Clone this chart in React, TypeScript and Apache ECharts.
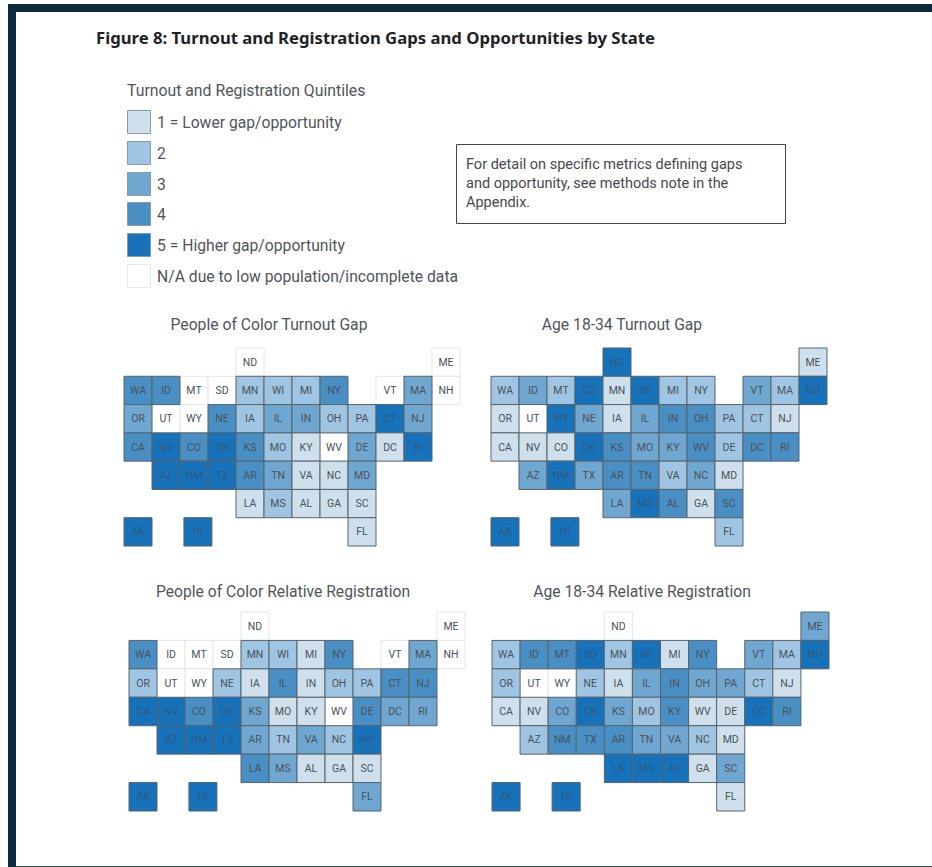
import React, { useEffect, useRef } from "react";
import * as echarts from "echarts";

const states = ["ND","ME","WA","ID","MT","SD","MN","WI","MI","NY","VT","MA","NH","OR","UT","WY","NE","IA","IL","IN","OH","PA","CT","NJ","CA","NV","CO","OK","KS","MO","KY","WV","DE","DC","RI","AZ","NM","TX","AR","TN","VA","NC","MD","LA","MS","AL","GA","SC","AK","HI","FL"];
const columns = [4,11,0,1,2,3,4,5,6,7,9,10,11,0,1,2,3,4,5,6,7,8,9,10,0,1,2,3,4,5,6,7,8,9,10,1,2,3,4,5,6,7,8,4,5,6,7,8,0,2.14,8];
const rows = [0,0,1,1,1,1,1,1,1,1,1,1,1,2,2,2,2,2,2,2,2,2,2,2,3,3,3,3,3,3,3,3,3,3,3,4,4,4,4,4,4,4,4,5,5,5,5,5,6,6,6];

const pocTurnout = [0,0,4,4,0,0,2,2,2,4,0,3,0,3,0,0,4,2,3,3,2,2,5,3,4,5,4,5,4,2,1,0,3,1,5,5,5,5,4,3,1,1,3,1,2,1,1,1,5,5,1];
const youthTurnout = [5,1,2,3,2,5,1,5,2,2,3,2,5,1,0,5,3,1,3,4,4,2,2,1,1,1,1,5,4,3,3,4,2,4,4,3,5,3,4,4,2,3,1,3,5,4,1,4,5,5,2];
const pocRegistration = [0,0,4,0,0,0,2,2,1,4,0,3,0,2,0,0,2,1,4,1,2,2,4,4,5,5,4,5,3,1,1,0,4,3,3,5,5,5,3,2,3,2,5,4,3,1,1,1,5,5,3];
const youthRegistration = [0,3,2,4,4,5,2,5,1,4,3,2,5,2,0,0,2,1,3,4,3,3,2,1,1,1,3,5,3,2,4,1,1,5,4,2,4,4,4,3,3,2,1,5,5,5,1,3,5,5,1];

const quintileColors = ["#ffffff","#cfe0ec","#a0c5e2","#6fa7d0","#4a8fc4","#1772b9"];
const legendLabels = ["1 = Lower gap/opportunity","2","3","4","5 = Higher gap/opportunity","N/A due to low population/incomplete data"];
const legendLevels = [1,2,3,4,5,0];
const legendTops = [110,141,172,202,233,264];
const noteLines = ["For detail on specific metrics defining gaps","and opportunity, see methods note in the","Appendix."];

const panels = [
  { title: "People of Color Turnout Gap", values: pocTurnout, left: 124, top: 348, right: 460, bottom: 546, titleX: 269, titleY: 324 },
  { title: "Age 18-34 Turnout Gap", values: youthTurnout, left: 491, top: 348, right: 827, bottom: 546, titleX: 622, titleY: 324 },
  { title: "People of Color Relative Registration", values: pocRegistration, left: 129, top: 612, right: 465, bottom: 811, titleX: 283, titleY: 591 },
  { title: "Age 18-34 Relative Registration", values: youthRegistration, left: 492, top: 612, right: 829, bottom: 811, titleX: 642, titleY: 591 },
];

const TEXT = "#50555a";
const FONT = "Roboto";

export default function App() {
  const ref = useRef<HTMLDivElement>(null);
  useEffect(() => {
    document.body.style.margin = "0";
    const chart = echarts.init(ref.current!, undefined, { renderer: "svg" });
    const graphic: any[] = [
      { type: "rect", shape: { x: 8, y: 4, width: 924, height: 8 }, style: { fill: "#0b2a3e" }, silent: true },
      { type: "rect", shape: { x: 8, y: 4, width: 8, height: 863 }, style: { fill: "#0b2a3e" }, silent: true },
      { type: "rect", shape: { x: 16, y: 866, width: 916, height: 1 }, style: { fill: "#3a4a50" }, silent: true },
      { type: "text", x: 96, y: 37.5, style: { text: "Figure 8: Turnout and Registration Gaps and Opportunities by State", font: "700 16.7px 'Noto Sans'", fill: "#1f2226", textVerticalAlign: "middle" } },
      { type: "text", x: 127, y: 90, style: { text: "Turnout and Registration Quintiles", font: `400 15.8px ${FONT}`, fill: TEXT, textVerticalAlign: "middle" } },
      { type: "rect", shape: { x: 456.5, y: 144.5, width: 329, height: 79 }, style: { fill: "#fff", stroke: "#444", lineWidth: 1 } },
      ...noteLines.map((t, i) => ({ type: "text", x: 466, y: 164 + i * 19, style: { text: t, font: `400 14.5px ${FONT}`, fill: "#45494d", textVerticalAlign: "middle" } })),
      ...legendLabels.flatMap((t, i) => [
        { type: "rect", shape: { x: 127.5, y: legendTops[i] + 0.5, width: 23, height: 23 }, style: { fill: quintileColors[legendLevels[i]], stroke: legendLevels[i] === 0 ? "#e8e8e8" : "#8a99a5", lineWidth: 1 } },
        { type: "text", x: 157, y: legendTops[i] + 12, style: { text: t, font: `400 15.7px ${FONT}`, fill: TEXT, textVerticalAlign: "middle" } },
      ]),
      ...panels.map((p) => ({ type: "text", x: p.titleX, y: p.titleY, style: { text: p.title, font: `400 15.7px ${FONT}`, fill: TEXT, textAlign: "center", textVerticalAlign: "middle" } })),
    ];
    const grid = panels.map((p) => ({ left: p.left, top: p.top, width: p.right - p.left, height: p.bottom - p.top }));
    const xAxis = panels.map((_, i) => ({ type: "value", gridIndex: i, min: 0, max: 12, show: false }));
    const yAxis = panels.map((_, i) => ({ type: "value", gridIndex: i, min: 0, max: 7, inverse: true, show: false }));
    const series = panels.map((p, i) => ({
      type: "custom",
      coordinateSystem: "cartesian2d",
      xAxisIndex: i,
      yAxisIndex: i,
      clip: false,
      silent: true,
      data: states
        .map((s, k) => [columns[k], rows[k], p.values[k], s])
        .sort((a: any, b: any) => (a[2] === 0 ? -1 : 0) - (b[2] === 0 ? -1 : 0)),
      renderItem: (_: any, api: any) => {
        const a = api.coord([api.value(0), api.value(1)]);
        const b = api.coord([api.value(0) + 1, api.value(1) + 1]);
        const level = api.value(2);
        return {
          type: "group",
          children: [
            { type: "rect", shape: { x: a[0], y: a[1], width: b[0] - a[0], height: b[1] - a[1] }, style: { fill: quintileColors[level], stroke: level === 0 ? "#e6e6e6" : "#55646f", lineWidth: 1 } },
            { type: "text", x: (a[0] + b[0]) / 2, y: (a[1] + b[1]) / 2, style: { text: api.value(3), font: `400 10.5px ${FONT}`, fill: level === 5 ? "#2a5a86" : "#47525c", textAlign: "center", textVerticalAlign: "middle" } },
          ],
        };
      },
      encode: { x: 0, y: 1 },
      dimensions: ["col", "row", "level", { name: "state", type: "ordinal" }],
    }));
    chart.setOption({ animation: false, backgroundColor: "#ffffff", grid, xAxis, yAxis, series, graphic });
    return () => chart.dispose();
  }, []);
  return <div ref={ref} style={{ position: "absolute", left: 0, top: 0, width: 932, height: 867 }} />;
}
